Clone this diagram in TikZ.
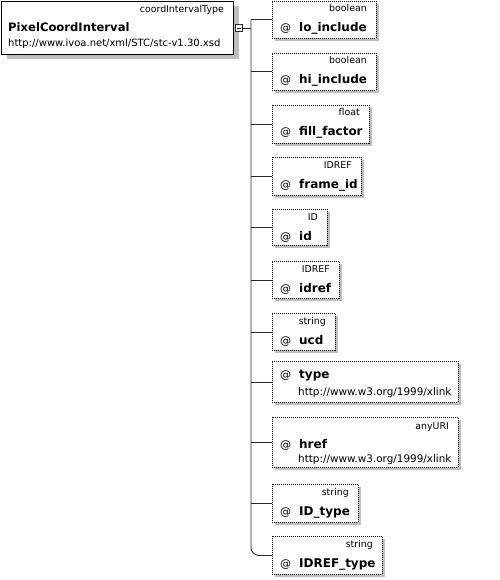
\documentclass[tikz,border=0pt]{standalone}
\usepackage{fontspec}
\setmainfont{DejaVu Sans}
\usetikzlibrary{shadows}

\definecolor{shadowc}{RGB}{190,190,190}
\definecolor{linec}{RGB}{40,40,40}

\tikzset{
  mainbox/.style={draw, line width=1pt, fill=white, inner sep=0, anchor=north west,
    drop shadow={shadow xshift=5pt, shadow yshift=-5pt, fill=shadowc, opacity=1}},
  attrbox/.style={draw, line width=0.9pt, dash pattern=on 1pt off 1pt, fill=white,
    inner sep=0, anchor=north west,
    drop shadow={shadow xshift=3pt, shadow yshift=-3pt, fill=shadowc, opacity=1}},
  typelbl/.style={inner sep=0, anchor=base east, font=\fontsize{9.4}{11}\selectfont},
  atsign/.style={inner sep=0, anchor=base west, font=\fontsize{11}{13}\selectfont},
  attrname/.style={inner sep=0, anchor=base west, font=\bfseries\fontsize{12}{14}\selectfont},
  nsurl/.style={inner sep=0, anchor=base west, font=\fontsize{10.4}{12}\selectfont},
  conn/.style={draw=linec, line width=0.9pt},
  minusbox/.style={draw=linec, line width=0.8pt, fill=white, minimum size=7pt, inner sep=0},
}

% attribute box with a type label: id, top, bottom, right edge, type, name
\newcommand\pxattr[6]{%
  \node[attrbox, minimum width={#4-272}, minimum height={#3-#2}] (#1) at (272,#2) {};
  \node[typelbl] (#1t) at (#4-9,#2+11) {#5};
  \node[atsign] (#1a) at (280,#2+31) {@};
  \node[attrname] (#1n) at (299,#2+31) {#6};
  \draw[conn] (sp |- #1.west) -- (#1.west);
}

\begin{document}
\begin{tikzpicture}[x=1pt,y=-1pt]
  \useasboundingbox (0,0) rectangle (499,580);

  % complex type element
  \node[mainbox, minimum width=232pt, minimum height=53pt] (main) at (1,1) {};
  \node[typelbl] (maint) at (224,13) {coordIntervalType};
  \node[inner sep=0, anchor=base west, font=\bfseries\fontsize{11.6}{14}\selectfont]
    (mainn) at (8,32) {PixelCoordInterval};
  \node[inner sep=0, anchor=base west, font=\fontsize{10}{12}\selectfont]
    (mainu) at (8,47) {http://www.ivoa.net/xml/STC/stc-v1.30.xsd};

  % collapse toggle
  \node[minusbox] (mn) at (239,28) {};
  \draw[linec, line width=0.8pt] ([xshift=1.6pt]mn.west) -- ([xshift=-1.6pt]mn.east);

  % attribute spine
  \coordinate (sp) at (251,0);
  \draw[conn] (mn.east) -- (sp |- mn.east);

  \pxattr{b1}{1}{38}{376}{boolean}{lo\_include}
  \pxattr{b2}{53}{90}{376}{boolean}{hi\_include}
  \pxattr{b3}{105}{143}{369}{float}{fill\_factor}
  \pxattr{b4}{157}{195}{361}{IDREF}{frame\_id}
  \pxattr{b5}{209}{245}{327}{ID}{id}
  \pxattr{b6}{261}{298}{339}{IDREF}{idref}
  \pxattr{b7}{313}{350}{335}{string}{ucd}

  % xlink attributes
  \node[attrbox, minimum width=186pt, minimum height=41pt] (b8) at (272,361) {};
  \node[atsign] (b8a) at (280,378) {@};
  \node[attrname] (b8n) at (299,378) {type};
  \node[nsurl] (b8u) at (298,395) {http://www.w3.org/1999/xlink};
  \draw[conn] (sp |- b8.west) -- (b8.west);

  \node[attrbox, minimum width=186pt, minimum height=50pt] (b9) at (272,417) {};
  \node[typelbl] (b9t) at (449,429) {anyURI};
  \node[atsign] (b9a) at (280,448) {@};
  \node[attrname] (b9n) at (299,448) {href};
  \node[nsurl] (b9u) at (298,462) {http://www.w3.org/1999/xlink};
  \draw[conn] (sp |- b9.west) -- (b9.west);

  \pxattr{b10}{484}{522}{358}{string}{ID\_type}

  % last attribute, joined by the rounded end of the spine
  \node[attrbox, minimum width=110pt, minimum height=38pt] (b11) at (272,536) {};
  \node[typelbl] (b11t) at (373,547) {string};
  \node[atsign] (b11a) at (280,567) {@};
  \node[attrname] (b11n) at (299,567) {IDREF\_type};
  \draw[conn, rounded corners=8pt] (sp |- b1.west) -- (sp |- b11.west) -- (b11.west);
\end{tikzpicture}
\end{document}
